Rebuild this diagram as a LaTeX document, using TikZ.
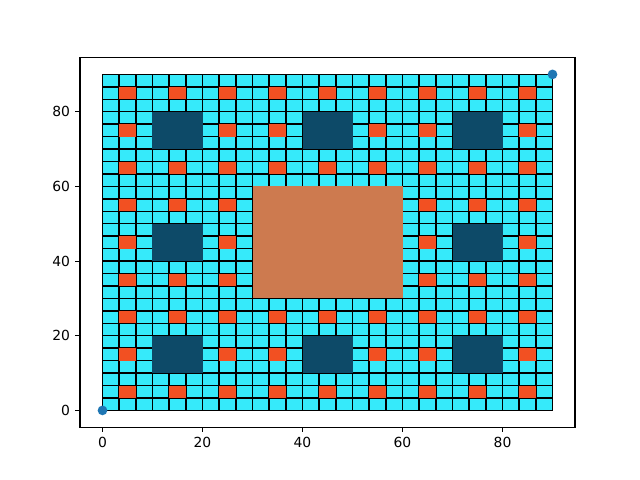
\documentclass[tikz,border=0pt]{standalone}
\usepackage{fontspec}
\setmainfont{DejaVu Sans}
\usetikzlibrary{positioning}
\definecolor{cellcyan}{HTML}{36EAFA}
\definecolor{holeorange}{HTML}{F25022}
\definecolor{holeblue}{HTML}{0D4A68}
\definecolor{holebrown}{HTML}{CD7A4F}
\definecolor{dotblue}{HTML}{1F77B4}

\begin{document}
\begin{tikzpicture}[
  x=3.6pt, y=2.688pt,
  cell/.style={draw=black, line width=1pt, fill=cellcyan},
  hole3/.style={fill=holeorange},
  hole2/.style={fill=holeblue},
  hole1/.style={fill=holebrown},
  spine/.style={line width=0.8pt, draw=black},
  tick/.style={line width=0.8pt},
  ticklab/.style={font=\fontsize{10}{12}\selectfont, inner sep=0pt},
  dot/.style={fill=dotblue}
]
\useasboundingbox (-20.5,-18.643) rectangle (107.5,109.93);
% carpet cells
\foreach \i in {0,...,26}
  \foreach \j in {0,...,26}
    \draw[cell] ({\i*10/3},{\j*10/3}) rectangle ++(10/3,10/3);
% holes, small to large
\foreach \a in {0,...,8}
  \foreach \b in {0,...,8}
    \fill[hole3] ({\a*10+10/3},{\b*10+10/3}) rectangle ++(10/3,10/3);
\foreach \a in {0,1,2}
  \foreach \b in {0,1,2}
    \fill[hole2] ({\a*30+10},{\b*30+10}) rectangle ++(10,10);
\fill[hole1] (30,30) rectangle (60,60);
% end points
\fill[dot] (0,0) circle (3.5pt);
\fill[dot] (90,90) circle (3.5pt);
% axes
\draw[spine] (-4.5,-4.5) rectangle (94.5,94.5);
\foreach \t in {0,20,...,80} {
  \draw[tick] (\t,-4.5) -- ++(0,-3.5pt) coordinate (xt\t);
  \node[ticklab, below=3.5pt of xt\t] (xl\t) {\t};
  \draw[tick] (-4.5,\t) -- ++(-3.5pt,0) coordinate (yt\t);
  \node[ticklab, left=3.5pt of yt\t] (yl\t) {\t};
}
\end{tikzpicture}
\end{document}
